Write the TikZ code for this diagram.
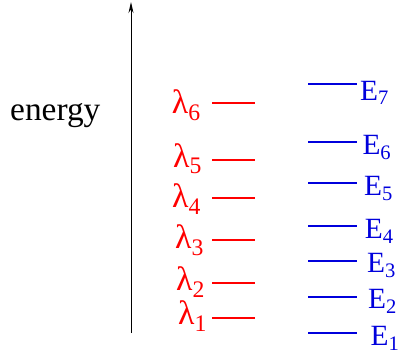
\documentclass[tikz,border=0pt]{standalone}
\usepackage{fontspec}
\setmainfont{Liberation Serif}
\usetikzlibrary{arrows.meta}
\definecolor{lvred}{HTML}{FF0000}
\definecolor{lvblue}{HTML}{0000DC}

\begin{document}
\begin{tikzpicture}[
    x=1bp, y=-1bp,
    >={Stealth[length=11bp, width=5bp]},
    axis/.style={draw=black, line width=1pt, ->},
    lamlevel/.style={draw=lvred, line width=1.2pt},
    elevel/.style={draw=lvblue, line width=1.2pt},
    lamlabel/.style={anchor=base west, inner sep=0pt, text=lvred, font=\fontsize{34}{34}\selectfont},
    elabel/.style={anchor=base west, inner sep=0pt, text=lvblue, font=\fontsize{29.5}{29.5}\selectfont},
  ]
  \useasboundingbox (0,0) rectangle (399,360);

  % ----- energy axis -----
  \coordinate (axisbot) at (131,333);
  \coordinate (axistop) at (131,2);
  \draw[axis] (axisbot) -- (axistop);
  \node[anchor=base west, inner sep=0pt, font=\fontsize{33.5}{33.5}\selectfont] (energy) at (10,120) {energy};

  % ----- red levels lambda_i: index / line y / label x / label baseline -----
  \foreach \i/\y/\lx/\ly in {6/103/171.7/113, 5/160/173/167, 4/198/172/207,
                              3/240/175/248.5, 2/283/176/290.5, 1/318/178/324}{
    \draw[lamlevel] (212,\y) -- (254.5,\y);
    \node[lamlabel] (lam\i) at (\lx,\ly) {λ\textsubscript{\i}};
  }

  % ----- blue levels E_i -----
  \foreach \i/\y/\lx/\ly in {7/84/360/100, 6/142/362.3/154.5, 5/183/364/195.5,
                              4/226/364.7/238.5, 3/261/367/272.5, 2/297/368/308.5,
                              1/333/370.5/345.5}{
    \draw[elevel] (308.3,\y) -- (356.5,\y);
    \node[elabel] (E\i) at (\lx,\ly) {E\textsubscript{\i}};
  }

\end{tikzpicture}
\end{document}
